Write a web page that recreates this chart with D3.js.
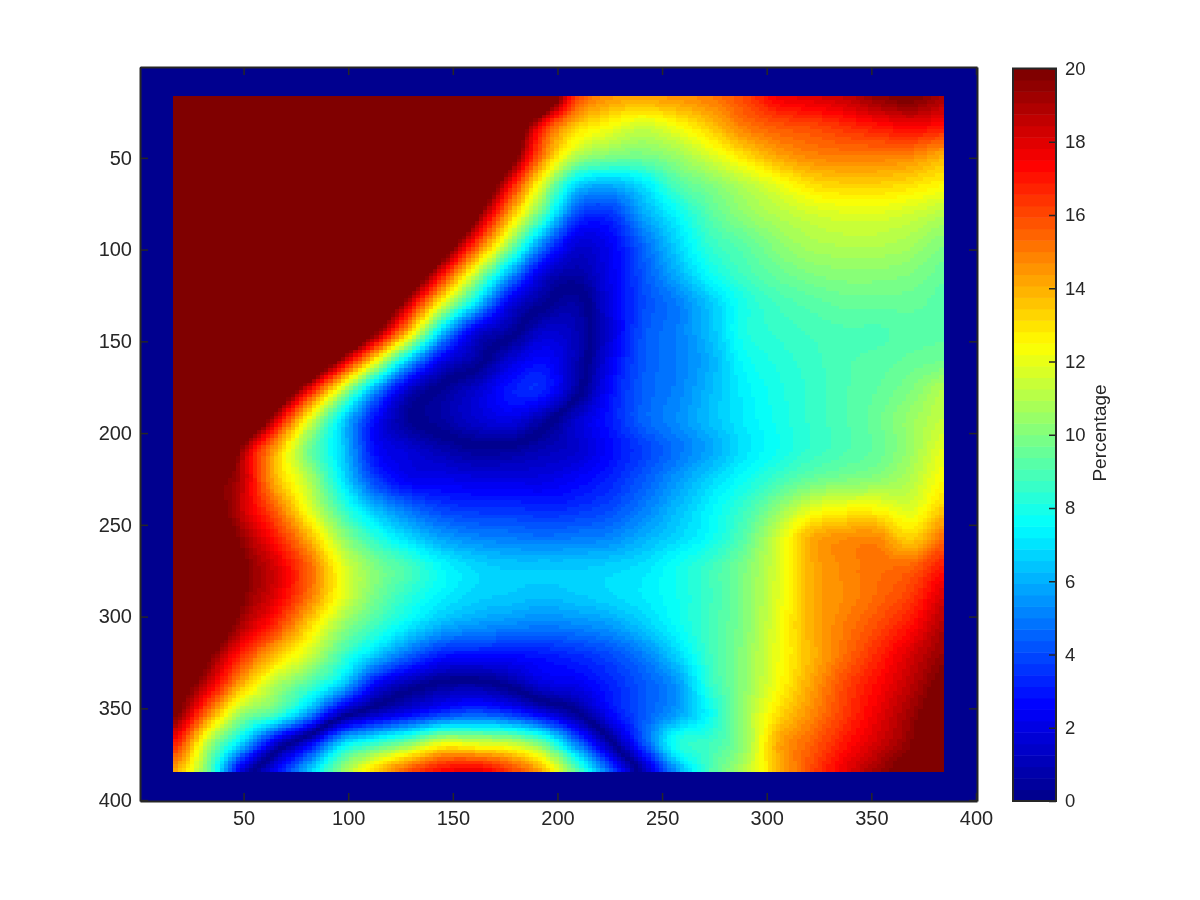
<!DOCTYPE html>
<html><head><meta charset="utf-8">
<style>html,body{margin:0;padding:0;background:#fff}#wrap{position:relative;width:1200px;height:900px}canvas,svg{position:absolute;left:0;top:0}text{font-family:"Liberation Sans",Arial,sans-serif;fill:#262626}</style>
</head><body><div id="wrap"><canvas id="c" width="1200" height="900"></canvas><svg id="s" width="1200" height="900"></svg></div>
<script src="https://cdn.jsdelivr.net/npm/d3@7"></script>
<script>
const xTickValues=[50,100,150,200,250,300,350,400];
const yTickValues=[50,100,150,200,250,300,350,400];
const cbarTickValues=[0,2,4,6,8,10,12,14,16,18,20];
const cbarLabel="Percentage";
// Signed estimates every 16 units; the picture shows the magnitude, colour limits 0..20.
const pct=[
[40,40,40,40,40,40,40,40,40,38,31,23.5,16.3,14.5,14.3,14.5,15,16,17.5,18,18.5,19.5,20,19],
[40,40,40,40,40,40,40,40,38,31,24,17,13.5,12.3,11.5,12.3,13.5,15,15.7,16,16.5,17,17.5,17],
[40,40,40,40,40,40,40,40,34,28,21.5,15,11,10,9.8,10.5,11.7,13,14.2,14.8,15,15,14.8,14],
[40,40,40,40,40,40,40,37,30.5,24,17.6,11.6,6.8,6,7,9,10,11,12,13,13.3,13.3,13,12.5],
[40,40,40,40,40,40,40,33,27,20.5,14.2,9,4,3.5,5.8,7.5,9.2,10.3,11,11.5,11.8,11.8,11.5,11],
[40,40,40,40,40,40,35,29,22.5,16.3,10.6,5.1,1.8,2.4,4.6,6.7,8.5,9.3,10.2,10.8,11,11,10.7,10],
[40,40,40,40,40,36,30,23.7,17.3,11.3,6,1.8,0.7,2.2,4.2,6,7.7,8.8,9.5,10,10.2,10.2,10,9.5],
[40,40,40,40,37,31,24.8,18.5,12.2,7,2.2,0.3,-0.6,2,4,5,6.5,8,8.8,9.2,9.5,9.5,9.5,9.2],
[40,40,40,40,33,26,20,13.5,6.5,1.9,0.5,-1.5,-1,1.7,4.2,5,6.3,8,8.5,8.8,9,9,9.2,9.3],
[40,40,37,31,25,18.7,12.3,6.2,2,0.5,-1.7,-2.7,-1,2.2,4.3,5,6,7.6,8.2,8.6,9,9.2,9.5,9.7],
[40,36,30,24,17.5,11.2,5.5,1.3,-0.3,-1.5,-3,-3.2,-0.5,2.7,4.4,5.1,6.2,7.3,8,8.5,9,9.4,10,11],
[37,31,24.8,18.4,12.1,7,2.7,0.3,-0.6,-1.5,-2,-0.6,1.5,3,4.5,5.3,6.3,7.2,7.9,8.5,9,9.6,10.5,11.3],
[33,27,19.5,14.3,9.8,6.7,2.7,1.7,0.9,0.3,0.4,1,1.5,2.7,3.8,4.8,5.8,7,7.8,8.5,9,9.5,10.5,12],
[33,22,18.8,14,11,7.2,3.8,2.3,2.2,2,2,2,2.5,3.2,4.3,5.5,6.7,7.7,8.7,9.5,9.9,10.2,11,12.5],
[30,22,18.5,15.5,12,8.7,6.2,4.7,3.8,3.5,3.5,3.3,3.5,4,5,6.2,7.4,8.6,10.2,11.8,12.4,12.4,11.8,13.5],
[30,23,19.5,17,14,10.5,8.3,6.8,5.7,5.2,5,4.8,5,5.2,6,6.8,7.7,9.2,11.5,14,14.6,14.7,13.3,15.3],
[30,25,20.3,18.2,15.5,12,10,8.8,7.5,6.8,6.5,6.5,6.5,6.7,7,7.8,8.7,9.9,11.7,14,14.8,15.2,15.5,17],
[30,24,20,18,15.2,12,9.8,8.3,7.3,6.7,6.5,6.3,6.5,6.8,7.2,7.8,8.7,10,11.8,14,14.7,15.4,16.3,18.2],
[30,23,19,16.5,13.3,10.5,8.7,7.2,6,5.5,5.2,5,5.2,5.6,6.5,7.6,8.8,10,12,14,15,16,17.2,19],
[25,20.3,16.7,13.7,11.5,8.8,6.5,4.5,3,2.8,2.8,3,3.4,4,5,6.7,8.7,10.2,12.1,13.8,15.3,16.7,18.2,19.5],
[21.5,18.3,14,11,9,6.5,2.5,0.7,-0.3,-0.5,0.3,1.8,2.2,3.2,4.3,5.5,8.4,10.2,12.3,14.2,16,17.3,18.7,20.2],
[20,15,10.5,8.8,5.5,0.9,-1.3,-2.5,-3.7,-4.3,-3.7,-2.2,-0.3,2.5,4.3,5.7,7.7,10.5,13,14.7,16.3,17.8,19.3,21],
[17,11,6.7,1.7,-2,-6.7,-8.5,-10,-12,-11.7,-11.3,-9.5,-5,-0.5,4,8,8.7,10.3,14,15.5,17,18.3,19.7,21.5],
[14,9.5,1.7,-2.5,-6.5,-10.5,-13.5,-16,-17.5,-18,-16.5,-14,-9.5,-4.5,0.6,5.5,9,11,13.7,16,17.8,19.3,20.5,21]
];

const jetStops=[[0,[0,0,143]],[0.125,[0,0,255]],[0.375,[0,255,255]],[0.625,[255,255,0]],[0.875,[255,0,0]],[1,[128,0,0]]];
const jetScale=d3.scaleLinear().domain(jetStops.map(d=>d[0])).range(jetStops.map(d=>d3.rgb(...d[1]))).interpolate(d3.interpolateRgb);
const levels=64;
const jet=d3.range(levels).map(i=>jetScale(i/(levels-1)));
const colorOf=d3.scaleQuantize().domain([0,20]).range(jet);

const x=d3.scaleLinear().domain([0.5,400.5]).range([140,977]);
const y=d3.scaleLinear().domain([0.5,400.5]).range([67,801]);
const cy=d3.scaleLinear().domain([0,20]).range([801,68.5]);

function cr(p0,p1,p2,p3,t){return 0.5*((2*p1)+(-p0+p2)*t+(2*p0-5*p1+4*p2-p3)*t*t+(-p0+3*p1-3*p2+p3)*t*t*t);}
function sample(ux,uy){
  const fx=(ux-17)/16, fy=(uy-17)/16;
  const ix=Math.min(Math.floor(fx),22), iy=Math.min(Math.floor(fy),22);
  const tx=fx-ix, ty=fy-iy;
  const g=(r,c)=>pct[Math.max(0,Math.min(23,r))][Math.max(0,Math.min(23,c))];
  const col=[];
  for(let j=-1;j<=2;j++) col.push(cr(g(iy+j,ix-1),g(iy+j,ix),g(iy+j,ix+1),g(iy+j,ix+2),tx));
  return cr(col[0],col[1],col[2],col[3],ty);
}
const ctx=document.getElementById('c').getContext('2d');
ctx.fillStyle=jet[0];
ctx.fillRect(x(0.5),y(0.5),x(400.5)-x(0.5),y(400.5)-y(0.5));
const step=2;
for(let uy=17;uy<=384;uy+=step){
  for(let ux=17;ux<=384;ux+=step){
    const v=Math.min(19.999,Math.abs(sample(ux+(step-1)/2,uy+(step-1)/2)));
    ctx.fillStyle=colorOf(v);
    const x0=Math.round(x(ux-0.5)),x1=Math.round(x(ux-0.5+step)),y0=Math.round(y(uy-0.5)),y1=Math.round(y(uy-0.5+step));
    ctx.fillRect(x0,y0,x1-x0,y1-y0);
  }
}

const svg=d3.select('#s');
const ink='#262626';
const gx=svg.append('g').attr('transform','translate(0,801)').call(d3.axisBottom(x).tickValues(xTickValues).tickSize(-8).tickSizeOuter(0).tickPadding(10));
const gy=svg.append('g').attr('transform','translate(140,0)').call(d3.axisLeft(y).tickValues(yTickValues).tickSize(-8).tickSizeOuter(0).tickPadding(8));
const gxt=svg.append('g').attr('transform','translate(0,67)').call(d3.axisTop(x).tickValues(xTickValues).tickSize(-8).tickSizeOuter(0).tickFormat(''));
const gyr=svg.append('g').attr('transform','translate(977,0)').call(d3.axisRight(y).tickValues(yTickValues).tickSize(-8).tickSizeOuter(0).tickFormat(''));
[gx,gy,gxt,gyr].forEach(g=>{g.selectAll('.domain').attr('stroke',ink).attr('stroke-width',2);g.selectAll('line').attr('stroke',ink).attr('stroke-width',1.5);g.selectAll('text').style('font-size','20px').style('font-family','"Liberation Sans"').attr('fill',ink);});
gx.selectAll('text').attr('dy','0.71em');

// colorbar
const cbX0=1013,cbX1=1056;
const cb=svg.append('g');
cb.selectAll('rect').data(jet).join('rect')
  .attr('x',cbX0).attr('width',cbX1-cbX0)
  .attr('y',(d,i)=>cy((i+1)/levels*20)).attr('height',(cy(0)-cy(20))/levels+0.5)
  .attr('fill',d=>d);
const gc=svg.append('g').attr('transform',`translate(${cbX1},0)`).call(d3.axisRight(cy).tickValues(cbarTickValues).tickSize(-7).tickSizeOuter(0));
gc.selectAll('line').attr('stroke',ink).attr('stroke-width',1.5);
gc.selectAll('.domain').remove();
gc.selectAll('text').style('font-size','18.5px').style('font-family','"Liberation Sans"').attr('fill',ink).attr('x',9);
svg.append('rect').attr('x',cbX0).attr('y',cy(20)).attr('width',cbX1-cbX0).attr('height',cy(0)-cy(20)).attr('fill','none').attr('stroke',ink).attr('stroke-width',2);
svg.append('text').attr('transform','translate(1106,433) rotate(-90)').attr('text-anchor','middle').style('font-size','19px').text(cbarLabel);
</script></body></html>
